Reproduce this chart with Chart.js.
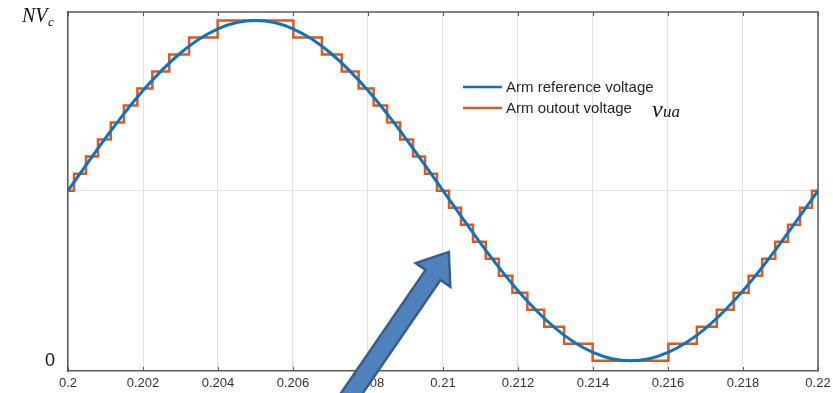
<!DOCTYPE html>
<html lang="en">
<head>
    <meta charset="UTF-8" />
    <title>Arm voltage</title>
    <script src="https://cdn.jsdelivr.net/npm/chart.js"></script>
    <style>
        body { margin: 0; background: #fff; }
    </style>
</head>
<body>
    <canvas id="armChart" width="833" height="393"></canvas>
    <script>
        // time axis ticks (s)
        const xTicks = [0.2, 0.202, 0.204, 0.206, 0.208, 0.21, 0.212, 0.214, 0.216, 0.218, 0.22];

        // reference voltage, in submodule levels (0 .. N = 20)
        const refTime = [
            0.2, 0.2005, 0.201, 0.2015, 0.202, 0.2025, 0.203, 0.2035, 0.204, 0.2045,
            0.205, 0.2055, 0.206, 0.2065, 0.207, 0.2075, 0.208, 0.2085, 0.209, 0.2095,
            0.21, 0.2105, 0.211, 0.2115, 0.212, 0.2125, 0.213, 0.2135, 0.214, 0.2145,
            0.215, 0.2155, 0.216, 0.2165, 0.217, 0.2175, 0.218, 0.2185, 0.219, 0.2195, 0.22
        ];
        const refVoltage = [
            10, 11.56, 13.09, 14.54, 15.88, 17.07, 18.09, 18.91, 19.51, 19.88,
            20, 19.88, 19.51, 18.91, 18.09, 17.07, 15.88, 14.54, 13.09, 11.56,
            10, 8.44, 6.91, 5.46, 4.12, 2.93, 1.91, 1.09, 0.49, 0.12,
            0, 0.12, 0.49, 1.09, 1.91, 2.93, 4.12, 5.46, 6.91, 8.44, 10
        ];

        // staircase output: time where each level starts
        const stepTime = [
            0.2, 0.20016, 0.20048, 0.20080, 0.20114, 0.20149, 0.20185, 0.20225, 0.20270, 0.20323, 0.20399,
            0.20601, 0.20677, 0.20730, 0.20775, 0.20815, 0.20851, 0.20886, 0.20920, 0.20952, 0.20984,
            0.21016, 0.21048, 0.21080, 0.21114, 0.21149, 0.21185, 0.21225, 0.21270, 0.21323, 0.21399,
            0.21601, 0.21677, 0.21730, 0.21775, 0.21815, 0.21851, 0.21886, 0.21920, 0.21952, 0.21984,
            0.22
        ];
        const stepLevel = [
            10, 11, 12, 13, 14, 15, 16, 17, 18, 19, 20,
            19, 18, 17, 16, 15, 14, 13, 12, 11, 10,
            9, 8, 7, 6, 5, 4, 3, 2, 1, 0,
            1, 2, 3, 4, 5, 6, 7, 8, 9, 10,
            10
        ];

        const blue = '#0b74c0';
        const orange = '#dc5a1e';
        const frameColor = '#5a5a5a';

        const extras = {
            id: 'extras',
            afterDraw(chart) {
                const ctx = chart.ctx;
                const a = chart.chartArea;
                const xs = chart.scales.x;
                ctx.save();

                // top / right frame
                ctx.strokeStyle = frameColor;
                ctx.lineWidth = 1.5;
                ctx.beginPath();
                ctx.moveTo(a.left, a.top);
                ctx.lineTo(a.right, a.top);
                ctx.lineTo(a.right, a.bottom);
                ctx.stroke();

                // inward tick marks
                ctx.lineWidth = 1;
                ctx.beginPath();
                xTicks.forEach(t => {
                    const px = Math.round(xs.getPixelForValue(t)) + 0.5;
                    ctx.moveTo(px, a.bottom);
                    ctx.lineTo(px, a.bottom - 4);
                    ctx.moveTo(px, a.top);
                    ctx.lineTo(px, a.top + 4);
                });
                ctx.stroke();

                // y label NVc
                ctx.fillStyle = '#111';
                ctx.textBaseline = 'alphabetic';
                ctx.textAlign = 'left';
                ctx.font = 'italic 20px "Liberation Serif", serif';
                ctx.fillText('NV', 22, 22);
                ctx.font = 'italic 13px "Liberation Serif", serif';
                ctx.fillText('c', 48, 26);

                // legend
                const ds = chart.data.datasets;
                const rows = [87, 108];
                ds.forEach((d, i) => {
                    ctx.strokeStyle = d.borderColor;
                    ctx.lineWidth = 2.5;
                    ctx.beginPath();
                    ctx.moveTo(463, rows[i]);
                    ctx.lineTo(502, rows[i]);
                    ctx.stroke();
                    ctx.fillStyle = '#262626';
                    ctx.font = '15px "Liberation Sans", Arial, sans-serif';
                    ctx.textBaseline = 'middle';
                    ctx.fillText(d.label, 506, rows[i] + 1);
                });
                ctx.textBaseline = 'alphabetic';
                ctx.fillStyle = '#111';
                ctx.font = 'italic 24px "Liberation Serif", serif';
                ctx.fillText('v', 652, 117);
                ctx.font = 'italic 17px "Liberation Serif", serif';
                ctx.fillText('ua', 663, 117);

                // block arrow annotation
                const ux = 0.566, uy = -0.824;
                const nx = 0.824, ny = 0.566;
                const bx = 433, by = 275;
                const tip = [bx + 28 * ux, by + 28 * uy];
                const tail = [bx - 160 * ux, by - 160 * uy];
                const sw = 9, hw = 21;
                ctx.beginPath();
                ctx.moveTo(tail[0] - sw * nx, tail[1] - sw * ny);
                ctx.lineTo(bx - sw * nx, by - sw * ny);
                ctx.lineTo(bx - hw * nx, by - hw * ny);
                ctx.lineTo(tip[0], tip[1]);
                ctx.lineTo(bx + hw * nx, by + hw * ny);
                ctx.lineTo(bx + sw * nx, by + sw * ny);
                ctx.lineTo(tail[0] + sw * nx, tail[1] + sw * ny);
                ctx.closePath();
                ctx.fillStyle = '#4f81bd';
                ctx.fill();
                ctx.strokeStyle = '#385d8a';
                ctx.lineWidth = 2.5;
                ctx.lineJoin = 'miter';
                ctx.stroke();

                ctx.restore();
            }
        };

        new Chart(document.getElementById('armChart').getContext('2d'), {
            type: 'line',
            data: {
                datasets: [{
                    label: 'Arm reference voltage',
                    data: refTime.map((t, i) => ({ x: t, y: refVoltage[i] })),
                    borderColor: blue,
                    borderWidth: 3,
                    tension: 0.4,
                    pointRadius: 0
                }, {
                    label: 'Arm outout voltage',
                    data: stepTime.map((t, i) => ({ x: t, y: stepLevel[i] })),
                    borderColor: orange,
                    borderWidth: 2.5,
                    stepped: 'before',
                    pointRadius: 0
                }]
            },
            options: {
                responsive: false,
                animation: false,
                layout: { padding: { top: 12, right: 15, left: 0, bottom: 0 } },
                plugins: {
                    legend: { display: false },
                    tooltip: { enabled: false }
                },
                scales: {
                    x: {
                        type: 'linear',
                        min: 0.2,
                        max: 0.22,
                        afterBuildTicks: s => { s.ticks = xTicks.map(v => ({ value: v })); },
                        afterFit: s => {
                            s.height = 22;
                            s.paddingLeft = 0;
                            s.paddingRight = 0;
                        },
                        ticks: {
                            padding: 5,
                            color: '#333',
                            font: { family: '"Liberation Sans", Arial, sans-serif', size: 13 },
                            callback: v => String(Number(v.toFixed(3)))
                        },
                        grid: { color: '#e2e2e2', drawTicks: false },
                        border: { color: frameColor, width: 1.5 }
                    },
                    y: {
                        min: -0.6,
                        max: 20.5,
                        afterBuildTicks: s => { s.ticks = [0, 10, 20].map(v => ({ value: v })); },
                        afterFit: s => {
                            s.width = 68;
                            s.paddingTop = 0;
                            s.paddingBottom = 0;
                        },
                        ticks: {
                            padding: 13,
                            color: '#111',
                            font: { family: '"Liberation Sans", Arial, sans-serif', size: 18 },
                            callback: v => (v === 0 ? '0' : '')
                        },
                        grid: {
                            drawTicks: false,
                            color: c => (c.tick && c.tick.value === 10 ? '#e2e2e2' : 'rgba(0,0,0,0)')
                        },
                        border: { color: frameColor, width: 1.5 }
                    }
                }
            },
            plugins: [extras]
        });
    </script>
</body>
</html>
